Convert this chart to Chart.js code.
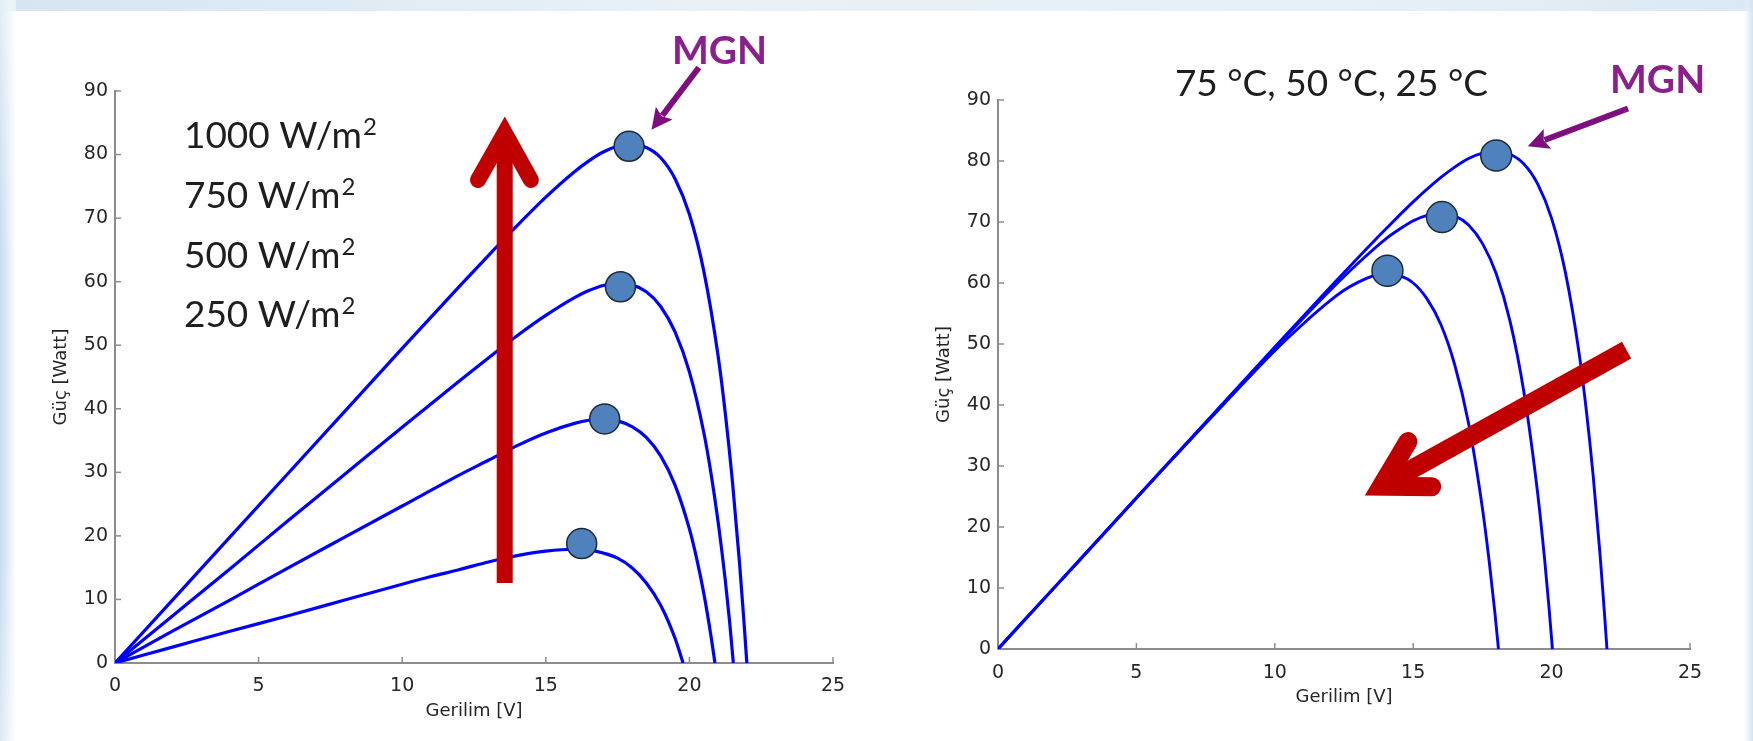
<!DOCTYPE html>
<html>
<head>
<meta charset="utf-8">
<script src="https://cdn.jsdelivr.net/npm/chart.js@4.4.1/dist/chart.umd.min.js"></script>
<style>
  html, body { margin: 0; padding: 0; }
  body { width: 1753px; height: 741px; position: relative; overflow: hidden; background: #ffffff; }
  #bgTop { position: absolute; left: 0; top: 0; width: 1753px; height: 11px;
           background: linear-gradient(to right, #d6e5f1, #e9f1f7 40%, #e6eff6 80%, #dbe8f2); }
  #bgLeft { position: absolute; left: 0; top: 0; width: 16px; height: 741px;
            background: linear-gradient(to right, rgba(196,220,238,1), rgba(220,234,245,0.7) 60%, rgba(255,255,255,0)); }
  #bgLeft2 { position: absolute; left: 0; top: 0; width: 16px; height: 741px;
             background: linear-gradient(to bottom, rgba(255,255,255,0.5), rgba(255,255,255,0) 35%, rgba(255,255,255,0) 75%, rgba(255,255,255,0.4)); }
  #bgRight { position: absolute; right: 0; top: 0; width: 10px; height: 741px;
             background: linear-gradient(to left, #d3e4f1, rgba(230,240,247,0.6) 60%, rgba(255,255,255,0)); }
  .wrap { position: absolute; top: 0; height: 741px; }
  #wl { left: 0; width: 876px; }
  #wr { left: 876px; width: 877px; }
</style>
</head>
<body>
<div id="bgTop"></div>
<div id="bgLeft"></div>
<div id="bgLeft2"></div>
<div id="bgRight"></div>
<div class="wrap" id="wl"><canvas id="cLeft" width="876" height="741"></canvas></div>
<div class="wrap" id="wr"><canvas id="cRight" width="877" height="741"></canvas></div>
<script>
// ================= DATA =================
// Left chart: irradiance curves, voltage [V] vs power [W]
const volt1000 = [0, 2, 4, 6, 8, 10, 12, 13, 14, 15, 16, 16.5, 17, 17.5, 18, 18.5, 19, 19.5, 20, 20.5, 21, 21.25, 21.5, 21.75, 21.9, 22];
const pow1000  = [0, 9.9, 19.8, 29.7, 39.6, 49.5, 59.3, 64.1, 68.8, 73.3, 77.3, 79.0, 80.4, 81.3, 81.6, 81.1, 79.5, 76.2, 70.6, 61.7, 48.3, 39.3, 28.5, 15.5, 6.5, 0];
const volt750  = [0, 2, 4, 6, 8, 10, 12, 13, 14, 15, 16, 16.5, 17, 17.5, 18, 18.5, 19, 19.5, 20, 20.5, 20.75, 21, 21.25, 21.4, 21.53];
const pow750   = [0, 7.4, 14.8, 22.3, 29.7, 37.1, 44.4, 48.0, 51.5, 54.7, 57.5, 58.6, 59.4, 59.7, 59.5, 58.4, 56.1, 52.1, 45.8, 36.3, 29.9, 22.2, 13.0, 6.5, 0];
const volt500  = [0, 2, 4, 6, 8, 10, 12, 13, 14, 15, 16, 16.5, 17, 17.5, 18, 18.5, 19, 19.5, 20, 20.25, 20.5, 20.75, 20.89];
const pow500   = [0, 5.0, 9.9, 14.9, 19.8, 24.7, 29.6, 31.9, 34.2, 36.2, 37.7, 38.2, 38.4, 38.1, 37.2, 35.5, 32.6, 28.0, 21.1, 16.5, 11.0, 4.3, 0];
const volt250  = [0, 2, 4, 6, 8, 10, 11, 12, 13, 14, 15, 16, 16.5, 17, 17.5, 18, 18.5, 19, 19.5, 19.78];
const pow250   = [0, 2.5, 5.0, 7.4, 9.9, 12.4, 13.6, 14.7, 15.9, 16.9, 17.6, 17.9, 17.8, 17.3, 16.5, 15.0, 12.6, 9.1, 3.9, 0];
const mppVoltIrr = [16.25, 17.05, 17.6, 17.9];
const mppPowIrr  = [18.8, 38.4, 59.2, 81.3];

// Right chart: temperature curves
const volt25 = [0, 2, 4, 6, 8, 10, 12, 13, 14, 15, 16, 16.5, 17, 17.5, 18, 18.5, 19, 19.5, 20, 20.5, 21, 21.25, 21.5, 21.75, 21.9, 22];
const pow25  = [0, 9.9, 19.8, 29.7, 39.6, 49.5, 59.3, 64.1, 68.8, 73.3, 77.3, 79.0, 80.4, 81.3, 81.6, 81.1, 79.5, 76.2, 70.6, 61.7, 48.3, 39.3, 28.5, 15.5, 6.5, 0];
const volt50 = [0, 2, 4, 6, 8, 10, 12, 13, 14, 14.5, 15, 15.5, 16, 16.5, 17, 17.5, 18, 18.5, 19, 19.5, 19.75, 19.9, 20.03];
const pow50  = [0, 9.9, 19.8, 29.7, 39.6, 49.3, 58.8, 63.2, 67.2, 68.8, 70.2, 71.1, 71.4, 71.0, 69.5, 66.5, 61.5, 53.7, 42.1, 25.4, 14.6, 7.1, 0];
const volt75 = [0, 2, 4, 6, 8, 10, 11, 12, 12.5, 13, 13.5, 14, 14.5, 15, 15.5, 16, 16.5, 17, 17.5, 17.75, 17.95, 18.08];
const pow75  = [0, 9.9, 19.8, 29.7, 39.4, 48.9, 53.2, 57.1, 58.8, 60.1, 61.1, 61.5, 61.2, 60.0, 57.4, 53.2, 46.6, 37.0, 23.1, 14.2, 6.0, 0];
const mppVoltTemp = [14.07, 16.04, 18.0];
const mppPowTemp  = [62.0, 70.8, 80.9];

// Axes / tick labels
const xTickValues = [0, 5, 10, 15, 20, 25];
const yTickValues = [0, 10, 20, 30, 40, 50, 60, 70, 80, 90];
const xTitle = 'Gerilim [V]';
const yTitle = 'Güç [Watt]';

// Annotation texts (base text + superscript part)
const irrLabels = ['1000 W/m', '750 W/m', '500 W/m', '250 W/m'];
const irrSup = '2';
const tempLabel = '75 °C, 50 °C, 25 °C';
const mgnLabel = 'MGN';

// ================= STYLE =================
const BLUE = '#0000ff';
const AXIS = '#8c8c8c';
const TICKC = '#262626';
const MARK_FILL = '#4f81bd';
const MARK_EDGE = '#1c2a3a';
const RED = '#c00000';
const PURPLE = '#7f0f7f';
const MGN_COLOR = '#8b1f8b';

const pts = (xs, ys) => xs.map((x, i) => ({ x: x, y: ys[i] }));

function lineDs(xs, ys, w) {
  return { data: pts(xs, ys), showLine: true, borderColor: BLUE, borderWidth: w,
           pointRadius: 0, cubicInterpolationMode: 'monotone', fill: false, order: 2 };
}
function markDs(xs, ys, r) {
  return { data: pts(xs, ys), showLine: false, pointRadius: r, pointBackgroundColor: MARK_FILL,
           pointBorderColor: MARK_EDGE, pointBorderWidth: 1.5, order: 1 };
}

const inwardTicks = {
  id: 'inwardTicks',
  beforeDatasetsDraw(chart) {
    const { ctx, chartArea: a, scales: { x, y } } = chart;
    ctx.save();
    ctx.strokeStyle = AXIS; ctx.lineWidth = 1.5;
    x.ticks.forEach(t => { const p = x.getPixelForValue(t.value);
      ctx.beginPath(); ctx.moveTo(p, a.bottom); ctx.lineTo(p, a.bottom - 6); ctx.stroke(); });
    y.ticks.forEach(t => { const p = y.getPixelForValue(t.value);
      ctx.beginPath(); ctx.moveTo(a.left, p); ctx.lineTo(a.left + 6, p); ctx.stroke(); });
    ctx.restore();
  }
};

function openArrow(ctx, P, w) {
  ctx.save();
  ctx.strokeStyle = RED; ctx.lineWidth = w;
  ctx.lineCap = 'butt';
  ctx.beginPath(); ctx.moveTo(P.s[0], P.s[1]); ctx.lineTo(P.a[0], P.a[1]); ctx.stroke();
  ctx.lineCap = 'round'; ctx.lineJoin = 'miter'; ctx.miterLimit = 10;
  ctx.beginPath(); ctx.moveTo(P.b1[0], P.b1[1]); ctx.lineTo(P.a[0], P.a[1]); ctx.lineTo(P.b2[0], P.b2[1]); ctx.stroke();
  ctx.restore();
}
function solidArrow(ctx, x0, y0, x1, y1, w, hl, hw) {
  const dx = x1 - x0, dy = y1 - y0, L = Math.hypot(dx, dy), ux = dx / L, uy = dy / L;
  const bx = x1 - ux * hl, by = y1 - uy * hl;
  ctx.save();
  ctx.strokeStyle = PURPLE; ctx.fillStyle = PURPLE; ctx.lineWidth = w; ctx.lineCap = 'butt';
  ctx.beginPath(); ctx.moveTo(x0, y0); ctx.lineTo(bx + ux * 3, by + uy * 3); ctx.stroke();
  ctx.beginPath(); ctx.moveTo(x1, y1);
  ctx.lineTo(bx - uy * hw / 2, by + ux * hw / 2);
  ctx.lineTo(bx + ux * 4, by + uy * 4);
  ctx.lineTo(bx + uy * hw / 2, by - ux * hw / 2);
  ctx.closePath(); ctx.fill();
  ctx.restore();
}

function makeOverlay(cfg) {
  return {
    id: 'overlay',
    afterDatasetsDraw(chart) {
      const { ctx, scales: { x, y } } = chart;
      const X = v => x.getPixelForValue(v), Y = v => y.getPixelForValue(v);
      const px = p => [X(p[0]), Y(p[1])];
      openArrow(ctx, { s: px(cfg.red.s), a: px(cfg.red.a), b1: px(cfg.red.b1), b2: px(cfg.red.b2) }, cfg.red.w);
      const p0 = px(cfg.purple.s), p1 = px(cfg.purple.t);
      solidArrow(ctx, p0[0], p0[1], p1[0], p1[1], 6, 21, 21);
      ctx.save();
      ctx.textAlign = 'left'; ctx.textBaseline = 'alphabetic';
      ctx.fillStyle = '#1e1e1e';
      cfg.texts.forEach(t => {
        ctx.font = '37px Lato';
        const tx = X(t.x), ty = Y(t.y);
        ctx.fillText(t.text, tx, ty);
        if (t.sup) {
          const w = ctx.measureText(t.text).width;
          ctx.font = '24px Lato';
          ctx.fillText(t.sup, tx + w + 1, ty - 13);
        }
      });
      ctx.fillStyle = MGN_COLOR; ctx.font = 'bold 39px Lato';
      ctx.fillText(mgnLabel, X(cfg.mgn[0]), Y(cfg.mgn[1]));
      ctx.restore();
    }
  };
}

function axisCfg(ticks, min, max, title, isX, fitSize, titlePad, tickPad) {
  return {
    type: 'linear', min: min, max: max,
    afterBuildTicks: s => { s.ticks = ticks.map(v => ({ value: v })); },
    ticks: { font: { family: 'DejaVu Sans', size: 19 }, color: TICKC, padding: tickPad, maxRotation: 0, autoSkip: false },
    grid: { drawOnChartArea: false, drawTicks: false },
    border: { display: true, color: AXIS, width: 2 },
    title: { display: true, text: title, color: TICKC, font: { family: 'DejaVu Sans', size: 18 }, padding: titlePad },
    afterFit: s => { if (isX) s.height = fitSize; else s.width = fitSize; }
  };
}

function build() {
  new Chart(document.getElementById('cLeft'), {
    type: 'scatter',
    data: { datasets: [
      lineDs(volt1000, pow1000, 3.2), lineDs(volt750, pow750, 3.2),
      lineDs(volt500, pow500, 3.2), lineDs(volt250, pow250, 3.2),
      markDs(mppVoltIrr, mppPowIrr, 15)
    ] },
    options: {
      responsive: false, animation: false, devicePixelRatio: 1,
      layout: { padding: { top: 91, right: 43, left: 0, bottom: 0 } },
      plugins: { legend: { display: false }, tooltip: { enabled: false } },
      scales: {
        x: axisCfg(xTickValues, 0, 25, xTitle, true, 78, { top: 0, bottom: 19 }, 12),
        y: axisCfg(yTickValues, 0, 90, yTitle, false, 115, { top: 51, bottom: 0 }, 7)
      }
    },
    plugins: [inwardTicks, makeOverlay({
      red: { s: [13.57, 12.6], a: [13.57, 83.4], b1: [12.64, 76.0], b2: [14.48, 76.0], w: 16 },
      purple: { s: [20.33, 93.7], t: [18.68, 83.9] },
      texts: irrLabels.map((t, i) => ({ text: t, sup: irrSup, x: 2.4, y: [81.1, 71.6, 62.2, 52.8][i] })),
      mgn: [19.39, 94.2]
    })]
  });

  new Chart(document.getElementById('cRight'), {
    type: 'scatter',
    data: { datasets: [
      lineDs(volt25, pow25, 2.9), lineDs(volt50, pow50, 2.9), lineDs(volt75, pow75, 2.9),
      markDs(mppVoltTemp, mppPowTemp, 15.5)
    ] },
    options: {
      responsive: false, animation: false, devicePixelRatio: 1,
      layout: { padding: { top: 100, right: 63, left: 0, bottom: 0 } },
      plugins: { legend: { display: false }, tooltip: { enabled: false } },
      scales: {
        x: axisCfg(xTickValues, 0, 25, xTitle, true, 92, { top: 0, bottom: 33 }, 13),
        y: axisCfg(yTickValues, 0, 90, yTitle, false, 122, { top: 58, bottom: 0 }, 7)
      }
    },
    plugins: [inwardTicks, makeOverlay({
      red: { s: [22.71, 49.0], a: [13.85, 26.7], b1: [14.81, 34.0], b2: [15.67, 26.6], w: 19 },
      purple: { s: [22.76, 88.6], t: [19.14, 82.4] },
      texts: [{ text: tempLabel, x: 6.39, y: 90.7 }],
      mgn: [22.11, 91.2]
    })]
  });
}

let built = false;
function go() { if (!built) { built = true; build(); } }
if (document.fonts && document.fonts.load) {
  Promise.all([
    document.fonts.load('37px Lato'), document.fonts.load('bold 39px Lato'),
    document.fonts.load('19px "DejaVu Sans"')
  ]).then(go, go);
  setTimeout(go, 400);
} else { go(); }
</script>
</body>
</html>
